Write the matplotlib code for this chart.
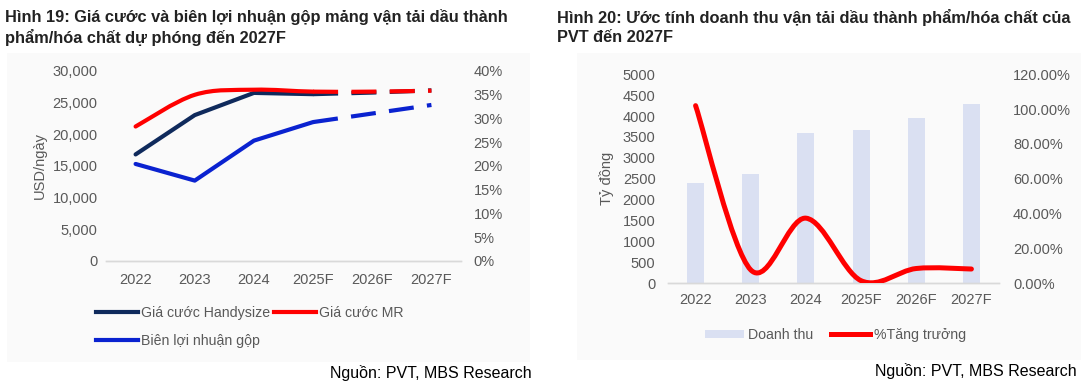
import numpy as np
import matplotlib
matplotlib.use("Agg")
import matplotlib.pyplot as plt
from matplotlib.path import Path
from matplotlib.patches import PathPatch, Rectangle, Patch
from matplotlib.lines import Line2D
from matplotlib.ticker import FuncFormatter, MultipleLocator

plt.rcParams['font.family'] = ['Liberation Sans', 'DejaVu Sans']

# ---------------- data ----------------
years = ["2022", "2023", "2024", "2025F", "2026F", "2027F"]
handysize = [16800, 23000, 26500, 26300, 26550, 26900]      # USD/ngày
mr_rate = [21200, 26200, 27000, 26700, 26700, 26850]        # USD/ngày
gross_margin = [20.4, 16.9, 25.3, 29.2, 31.0, 32.8]         # %
revenue = [2400, 2620, 3600, 3670, 3960, 4290]              # tỷ đồng
growth = [102.0, 7.7, 37.4, 1.5, 8.5, 8.2]                  # %
n_actual = 4   # solid through 2025F, dashed afterwards

title19 = ["Hình 19: Giá cước và biên lợi nhuận gộp mảng vận tải dầu thành",
           "phẩm/hóa chất dự phóng đến 2027F"]
title20 = ["Hình 20: Ước tính doanh thu vận tải dầu thành phẩm/hóa chất của",
           "PVT đến 2027F"]
source = "Nguồn: PVT, MBS Research"

# ---------------- style ----------------
W, H = 1081, 390
NAVY = "#0f2a5c"
RED = "#ff0000"
BLUE = "#0a22d0"
BAR = "#dae0f2"
GRAY = "#595959"
AXIS = "#d9d9d9"
PANEL = "#fafafa"
TICK_FS = 10.5
LEG_FS = 10.2


def fx(x):
    return x / W


def fy(y):
    return 1 - y / H


def smooth_path(xs, ys, seg_from, seg_to):
    """Excel-style smoothed line (Catmull-Rom bezier) over segments [seg_from, seg_to)."""
    P = np.column_stack([xs, ys]).astype(float)
    n = len(P)
    verts, codes = [P[seg_from]], [Path.MOVETO]
    for i in range(seg_from, seg_to):
        p0 = P[i - 1] if i > 0 else P[i]
        p1, p2 = P[i], P[i + 1]
        p3 = P[i + 2] if i + 2 < n else P[i + 1]
        c1 = p1 + (p2 - p0) / 6.0
        c2 = p2 - (p3 - p1) / 6.0
        verts += [c1, c2, p2]
        codes += [Path.CURVE4] * 3
    return Path(verts, codes)


fig = plt.figure(figsize=(W / 100, H / 100), dpi=100)

# background panels
fig.patches.append(Rectangle((fx(7), fy(362)), fx(530 - 7), (362 - 53) / H,
                             transform=fig.transFigure, facecolor=PANEL,
                             edgecolor="none", zorder=-5))
fig.patches.append(Rectangle((fx(577), fy(360)), fx(1081 - 577), (360 - 53) / H,
                             transform=fig.transFigure, facecolor=PANEL,
                             edgecolor="none", zorder=-5))

x = np.arange(len(years))


def style_axes(ax, ax2):
    for a in (ax, ax2):
        a.set_facecolor("none")
        for s in ("top", "left", "right"):
            a.spines[s].set_visible(False)
        a.spines["bottom"].set_color(AXIS)
        a.spines["bottom"].set_linewidth(1.0)
        a.tick_params(length=0, labelsize=TICK_FS, colors=GRAY)
    ax.set_xlim(-0.5, len(years) - 0.5)
    ax.set_xticks(x)
    ax.set_xticklabels(years)


# ---------------- Chart 19 ----------------
axL = fig.add_axes([fx(106), fy(261), fx(461 - 106), (261 - 70.7) / H])
axLb = axL.twinx()
style_axes(axL, axLb)
axL.set_ylim(0, 30000)
axL.yaxis.set_major_locator(MultipleLocator(5000))
axL.yaxis.set_major_formatter(FuncFormatter(lambda v, p: f"{int(v):,}"))
axLb.set_ylim(0, 40)
axLb.yaxis.set_major_locator(MultipleLocator(5))
axLb.yaxis.set_major_formatter(FuncFormatter(lambda v, p: f"{int(v)}%"))
axL.tick_params(axis="x", pad=9)
axL.tick_params(axis="y", pad=6)
axLb.tick_params(axis="y", pad=9)
axL.set_ylabel("USD/ngày", color=GRAY, fontsize=TICK_FS, labelpad=4)

LW = 3.0
dash = (6, 3.2)
k = n_actual
axL.plot(x[:k], handysize[:k], color=NAVY, lw=LW, solid_capstyle="round",
         solid_joinstyle="round", zorder=3)
axL.plot(x[k - 1:], handysize[k - 1:], color=NAVY, lw=LW, ls=(0, dash),
         dash_capstyle="butt", zorder=3)
axL.add_patch(PathPatch(smooth_path(x, mr_rate, 0, k - 1), fill=False,
                        edgecolor=RED, lw=LW, capstyle="round", joinstyle="round",
                        zorder=4))
axL.add_patch(PathPatch(smooth_path(x, mr_rate, k - 1, len(x) - 1), fill=False,
                        edgecolor=RED, lw=LW, ls=(0, dash), capstyle="butt",
                        zorder=4))
axLb.plot(x[:k], gross_margin[:k], color=BLUE, lw=LW, solid_capstyle="round",
          solid_joinstyle="round", zorder=3)
axLb.plot(x[k - 1:], gross_margin[k - 1:], color=BLUE, lw=LW, ls=(0, dash),
          dash_capstyle="butt", zorder=3)

hL = [Line2D([], [], color=NAVY, lw=LW),
      Line2D([], [], color=BLUE, lw=LW),
      Line2D([], [], color=RED, lw=LW)]
lL = ["Giá cước Handysize", "Biên lợi nhuận gộp", "Giá cước MR"]
fig.legend(hL, lL, loc="upper left", bbox_to_anchor=(fx(96), fy(306)),
           ncol=2, frameon=False, fontsize=LEG_FS, labelcolor=GRAY,
           handlelength=2.95, handletextpad=0.2, columnspacing=0.3,
           labelspacing=1.0, borderpad=0, borderaxespad=0)

# ---------------- Chart 20 ----------------
axR = fig.add_axes([fx(668), fy(283.3), fx(999 - 668), (283.3 - 74.3) / H])
axRb = axR.twinx()
style_axes(axR, axRb)
axR.set_ylim(0, 5000)
axR.yaxis.set_major_locator(MultipleLocator(500))
axR.yaxis.set_major_formatter(FuncFormatter(lambda v, p: f"{int(v)}"))
axRb.set_ylim(0, 120)
axRb.yaxis.set_major_locator(MultipleLocator(20))
axRb.yaxis.set_major_formatter(FuncFormatter(lambda v, p: f"{v:.2f}%"))
axR.tick_params(axis="x", pad=7)
axR.tick_params(axis="y", pad=9)
axRb.tick_params(axis="y", pad=10)
axR.set_ylabel("Tỷ đồng", color=GRAY, fontsize=TICK_FS, labelpad=6)

axR.bar(x, revenue, width=0.31, color=BAR, zorder=2)
axRb.add_patch(PathPatch(smooth_path(x, growth, 0, len(x) - 1), fill=False,
                         edgecolor=RED, lw=3.6, capstyle="round",
                         joinstyle="round", zorder=3))

hR = [Patch(facecolor=BAR, edgecolor="none"),
      Line2D([], [], color=RED, lw=3.6)]
lR = ["Doanh thu", "%Tăng trưởng"]
fig.legend(hR, lR, loc="upper left", bbox_to_anchor=(fx(705), fy(328)),
           ncol=2, frameon=False, fontsize=LEG_FS, labelcolor=GRAY,
           handlelength=2.75, handleheight=0.55, handletextpad=0.25,
           columnspacing=1.3, borderpad=0, borderaxespad=0)

# ---------------- titles & sources ----------------
TITLE_C = "#222222"
TITLE_FS = 11.8
fig.text(fx(5), fy(17), title19[0], fontsize=TITLE_FS, fontweight="bold",
         color=TITLE_C, va="center", ha="left")
fig.text(fx(5), fy(37), title19[1], fontsize=TITLE_FS, fontweight="bold",
         color=TITLE_C, va="center", ha="left")
fig.text(fx(557), fy(17), title20[0], fontsize=TITLE_FS, fontweight="bold",
         color=TITLE_C, va="center", ha="left")
fig.text(fx(557), fy(37), title20[1], fontsize=TITLE_FS, fontweight="bold",
         color=TITLE_C, va="center", ha="left")

fig.text(fx(532), fy(373), source, fontsize=11.5, color="black",
         va="center", ha="right")
fig.text(fx(1077), fy(371), source, fontsize=11.5, color="black",
         va="center", ha="right")

fig.savefig("out.png", dpi=100)
